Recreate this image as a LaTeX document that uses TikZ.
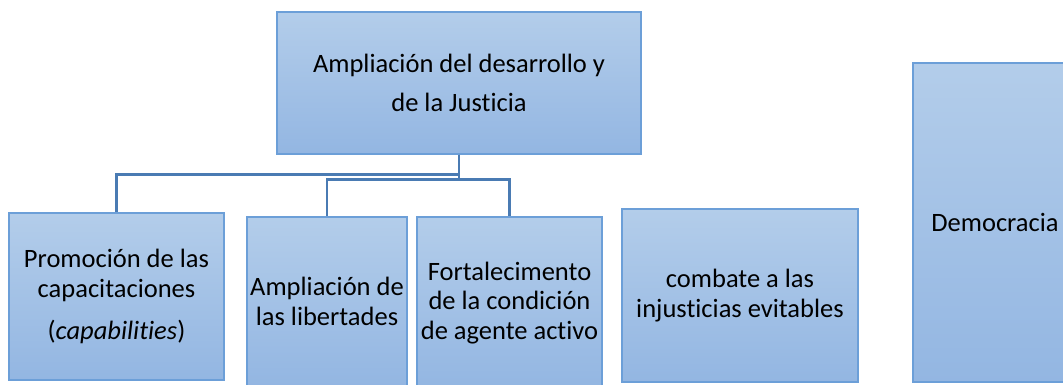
\documentclass[tikz,border=0pt]{standalone}
\usepackage{fontspec}
\setmainfont[Ligatures=NoCommon]{Carlito}
\definecolor{topc}{HTML}{B3CDEA}
\definecolor{botc}{HTML}{93B6E2}
\definecolor{bordc}{HTML}{6C9FD8}
\definecolor{connc}{HTML}{4A7BB3}
\tikzset{
  bx/.style={draw=bordc, line width=1.3pt, top color=topc, bottom color=botc,
    align=center, inner sep=0pt, text=black,
    font=\fontsize{26.5}{29.5}\selectfont},
  conn/.style={draw=connc, line width=2.6pt}
}
\begin{document}
\begin{tikzpicture}[x=1pt,y=-1pt]
\useasboundingbox (0,0) rectangle (1063,385);
\clip (0,0) rectangle (1063,385);
\node[bx, minimum width=364pt, minimum height=142pt] (top) at (459,83)
  {Ampliación del desarrollo y\\[9.5pt]de la Justicia};
\node[bx, minimum width=215pt, minimum height=167pt] (prom) at (116.5,296.5)
  {Promoción de las\\capacitaciones\\[12.5pt](\textit{capabilities})};
\node[bx, minimum width=160pt, minimum height=169pt] (ampl) at (327,301.5)
  {Ampliación de\\las libertades};
\node[bx, minimum width=185pt, minimum height=172pt] (fort) at (509.5,303)
  {Fortalecimento\\de la condición\\de agente activo};
\node[bx, minimum width=236pt, minimum height=173pt] (comb) at (740,295.5)
  {combate a las\\injusticias evitables};
\node[bx, minimum width=164pt, minimum height=319pt] (demo) at (995,222.5)
  {Democracia};
\draw[conn] (top.south) -- ++(0,20) -| (prom.north);
\draw[conn] (top.south) -- ++(0,25) -| (ampl.north);
\draw[conn] (top.south) -- ++(0,25) -| (fort.north);
\end{tikzpicture}
\end{document}
